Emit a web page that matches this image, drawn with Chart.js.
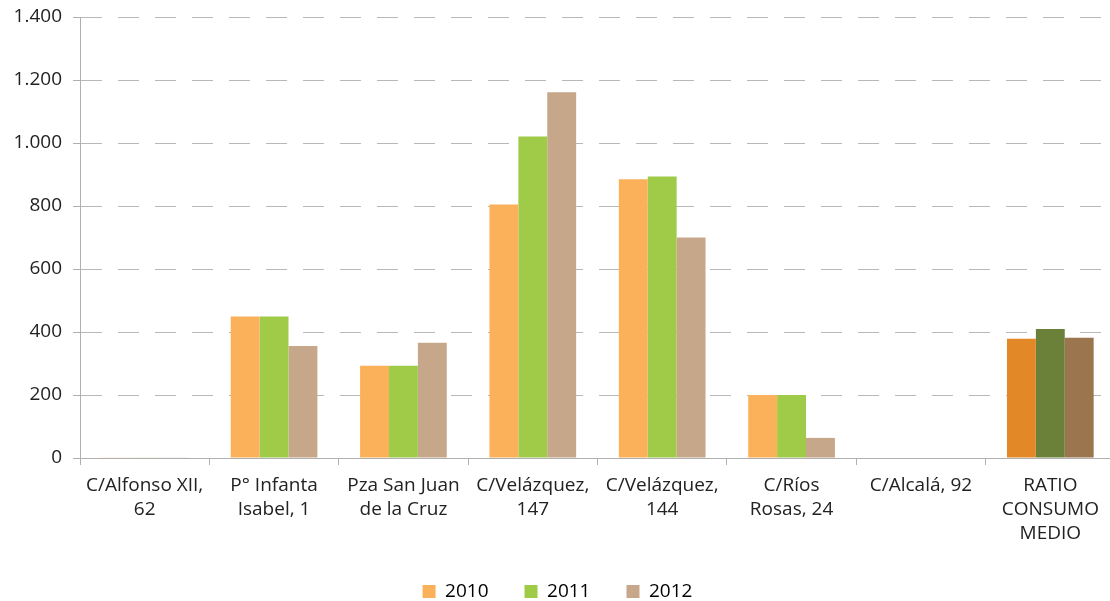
<!DOCTYPE html>
<html>
<head>
<meta charset="utf-8">
<script src="https://cdn.jsdelivr.net/npm/chart.js@4.4.1/dist/chart.umd.min.js"></script>
<style>
html,body{margin:0;padding:0;background:#fff;overflow:hidden;}
#wrap{width:1115px;height:601px;position:relative;}
</style>
</head>
<body>
<div id="wrap"><canvas id="c"></canvas></div>
<script>
const categories = [
  ['C/Alfonso XII,', '62'],
  ['P° Infanta', 'Isabel, 1'],
  ['Pza San Juan', 'de la Cruz'],
  ['C/Velázquez,', '147'],
  ['C/Velázquez,', '144'],
  ['C/Ríos', 'Rosas, 24'],
  ['C/Alcalá, 92'],
  ['RATIO', 'CONSUMO', 'MEDIO']
];
const seriesNames = ['2010', '2011', '2012'];
const values2010 = [2, 449, 293, 805, 885, 200, 0, 379];
const values2011 = [2, 449, 293, 1021, 894, 200, 0, 410];
const values2012 = [2, 356, 366, 1161, 700, 64, 0, 382];
const yTickLabels = ['0', '200', '400', '600', '800', '1.000', '1.200', '1.400'];

const baseColors = ['#FBB05A', '#9FCB48', '#C6A78A'];
const ratioColors = ['#E38826', '#6B8139', '#9A754E'];
const FONT = "'Open Sans', 'DejaVu Sans', sans-serif";

function colorsFor(i) {
  return categories.map((c, k) => k === categories.length - 1 ? ratioColors[i] : baseColors[i]);
}

const allValues = [values2010, values2011, values2012];

new Chart(document.getElementById('c'), {
  type: 'bar',
  data: {
    labels: categories,
    datasets: allValues.map((v, i) => ({
      label: seriesNames[i],
      data: v,
      backgroundColor: colorsFor(i),
      borderWidth: 0,
      categoryPercentage: 0.67,
      barPercentage: 1.0
    }))
  },
  options: {
    responsive: true,
    maintainAspectRatio: false,
    animation: false,
    layout: { padding: { top: 17, right: 0, left: 0, bottom: -10 } },
    plugins: {
      tooltip: { enabled: false },
      legend: {
        position: 'bottom',
        labels: {
          font: { family: FONT, size: 19 },
          color: '#222',
          boxWidth: 13,
          boxHeight: 13,
          padding: 36,
          generateLabels: (chart) => chart.data.datasets.map((ds, i) => ({
            text: ds.label,
            fillStyle: baseColors[i],
            strokeStyle: baseColors[i],
            lineWidth: 0,
            hidden: false,
            datasetIndex: i
          }))
        }
      }
    },
    scales: {
      x: {
        afterFit: (s) => { s.height = s.height - 8; },
        grid: {
          offset: true,
          drawOnChartArea: false,
          drawTicks: true,
          tickLength: 7,
          color: '#b0b0b0',
          lineWidth: 1
        },
        border: { display: true, color: '#b0b0b0', width: 1 },
        ticks: {
          font: { family: FONT, size: 19, lineHeight: 1.28 },
          color: '#222',
          maxRotation: 0,
          autoSkip: false,
          padding: 8
        }
      },
      y: {
        min: 0,
        max: 1400,
        afterFit: (s) => { s.width = 80; s.paddingTop = 0; s.paddingBottom = 0; },
        grid: {
          color: '#b8b8b8',
          lineWidth: 1,
          drawTicks: true,
          tickLength: 7,
          tickColor: '#b0b0b0'
        },
        border: { display: true, color: '#b0b0b0', width: 1, dash: [21, 16] },
        ticks: {
          stepSize: 200,
          font: { family: FONT, size: 19 },
          color: '#222',
          padding: 11,
          callback: (v, i) => yTickLabels[i]
        }
      }
    }
  }
});
</script>
</body>
</html>
